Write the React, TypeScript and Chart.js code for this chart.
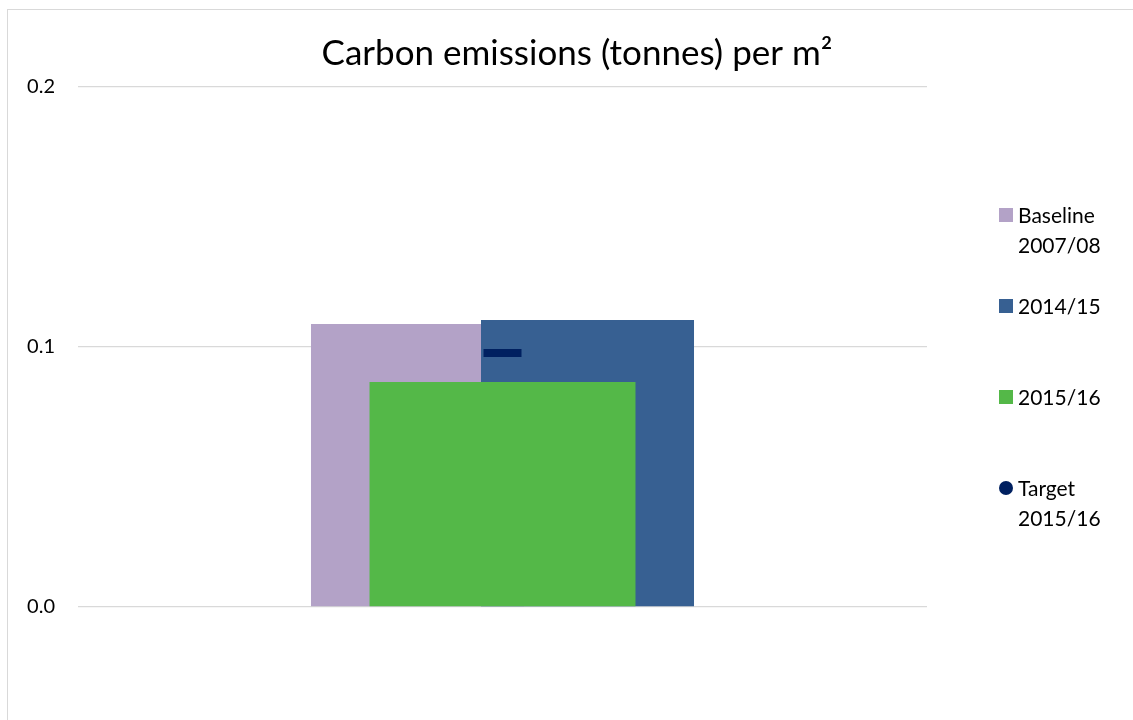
import React, { useEffect, useRef } from 'react';
import { Chart, registerables } from 'chart.js';

Chart.register(...registerables);

// Single category, four series
const categories = ['Carbon emissions per m²'];
const seriesLabels = ['Baseline 2007/08', '2014/15', '2015/16', 'Target 2015/16'];
const baseline0708 = [0.1088];
const fy1415 = [0.1104];
const fy1516 = [0.0865];
const target1516 = [0.0977];
const yTicks = [0, 0.1, 0.2];
const titleText = 'Carbon emissions (tonnes) per m²';

const FONT = 'Lato';
const colors = {
  baseline: '#B3A2C7',
  fy1415: '#376092',
  fy1516: '#54B848',
  target: '#002060',
  grid: '#D9D9D9',
  text: '#000000',
};

// Datasets are painted bottom-to-top in this index order:
// baseline, 2014/15 (overlapping the baseline), 2015/16, target marker.
const paintSequence = [0, 1, 2, 3];

const paintOrderPlugin = {
  id: 'paintOrder',
  beforeDatasetsDraw(chart: any) {
    paintSequence.forEach((i) => {
      const meta = chart.getDatasetMeta(i);
      if (meta && !meta.hidden) meta.controller.draw();
    });
    return false;
  },
};

function wrapWords(ctx: CanvasRenderingContext2D, text: string, maxWidth: number) {
  const words = text.split(' ');
  const lines: string[] = [];
  let line = '';
  words.forEach((w) => {
    const test = line ? line + ' ' + w : w;
    if (line && ctx.measureText(test).width > maxWidth) {
      lines.push(line);
      line = w;
    } else {
      line = test;
    }
  });
  if (line) lines.push(line);
  return lines;
}

// Legend to the right of the plot: square swatches for bars, a dot for the target.
const sideLegendPlugin = {
  id: 'sideLegend',
  afterDraw(chart: any) {
    const { ctx, chartArea } = chart;
    const box = 14;
    const boxX = chartArea.right + 72;
    const textX = boxX + box + 5;
    const firstY = chartArea.top + 128;
    const step = 91;
    const lineGap = 30;
    ctx.save();
    ctx.font = `21px ${FONT}`;
    ctx.textBaseline = 'middle';
    ctx.textAlign = 'left';
    chart.data.datasets.forEach((ds: any, i: number) => {
      const y = firstY + i * step;
      const color = ds.type === 'line' ? ds.borderColor : ds.backgroundColor;
      ctx.fillStyle = color;
      if (ds.type === 'line') {
        ctx.beginPath();
        ctx.arc(boxX + box / 2, y, box / 2, 0, Math.PI * 2);
        ctx.fill();
      } else {
        ctx.fillRect(boxX, y - box / 2, box, box);
      }
      ctx.fillStyle = colors.text;
      const lines = wrapWords(ctx, ds.label, chart.width - textX - 10);
      lines.forEach((t: string, k: number) => ctx.fillText(t, textX, y + 1 + k * lineGap));
    });
    ctx.restore();
  },
};

export default function App() {
  const canvasRef = useRef<HTMLCanvasElement | null>(null);

  useEffect(() => {
    const canvas = canvasRef.current;
    if (!canvas) return;
    const chart = new Chart(canvas, {
      type: 'bar',
      data: {
        labels: categories,
        datasets: [
          {
            label: seriesLabels[0],
            data: baseline0708,
            backgroundColor: colors.baseline,
            borderWidth: 0,
            order: 2,
            categoryPercentage: 0.4005,
            barPercentage: 1.2529,
          },
          {
            label: seriesLabels[1],
            data: fy1415,
            backgroundColor: colors.fy1415,
            borderWidth: 0,
            order: 3,
            categoryPercentage: 0.4005,
            barPercentage: 1.2529,
          },
          {
            // 2015/16 sits centred in front of the pair, with its own width
            label: seriesLabels[2],
            data: fy1516,
            backgroundColor: colors.fy1516,
            borderWidth: 0,
            order: 1,
            grouped: false,
            categoryPercentage: 0.3133,
            barPercentage: 1,
          },
          {
            type: 'line',
            label: seriesLabels[3],
            data: target1516,
            order: 0,
            showLine: false,
            borderColor: colors.target,
            backgroundColor: colors.target,
            pointStyle: 'line',
            pointRadius: 19,
            pointHoverRadius: 19,
            pointBorderWidth: 8,
            pointHoverBorderWidth: 8,
          } as any,
        ],
      },
      options: {
        animation: false,
        responsive: false,
        events: [],
        layout: { padding: { left: 13, right: 0, top: 0, bottom: 113 } },
        plugins: {
          legend: { display: false },
          tooltip: { enabled: false },
          title: {
            display: true,
            text: titleText,
            color: colors.text,
            font: { family: FONT, size: 35, weight: 'normal', lineHeight: 1.2 },
            padding: { top: 23, bottom: 12 },
          },
        },
        scales: {
          x: { type: 'category', display: false, offset: true },
          y: {
            type: 'linear',
            position: 'left',
            min: 0,
            max: 0.2,
            afterBuildTicks: (s: any) => {
              s.ticks = yTicks.map((v) => ({ value: v }));
            },
            afterFit: (s: any) => {
              s.width = 57;
            },
            ticks: {
              color: colors.text,
              font: { family: FONT, size: 20 },
              padding: 23,
              callback: (v: any) => Number(v).toFixed(1),
            },
            grid: { color: colors.grid, lineWidth: 1.3, drawTicks: false },
            border: { display: false },
          },
          yLegend: {
            type: 'linear',
            position: 'right',
            display: true,
            ticks: { display: false },
            grid: { display: false, drawTicks: false },
            border: { display: false },
            afterFit: (s: any) => {
              s.width = 206;
            },
          },
        },
      },
      plugins: [paintOrderPlugin, sideLegendPlugin],
    });
    return () => chart.destroy();
  }, []);

  return (
    <div
      style={{
        position: 'fixed',
        left: 7,
        top: 9,
        width: 1126,
        height: 711,
        borderLeft: '1px solid #D9D9D9',
        borderTop: '1px solid #D9D9D9',
        background: '#fff',
      }}
    >
      <canvas ref={canvasRef} width={1125} height={710} style={{ display: 'block' }} />
    </div>
  );
}
